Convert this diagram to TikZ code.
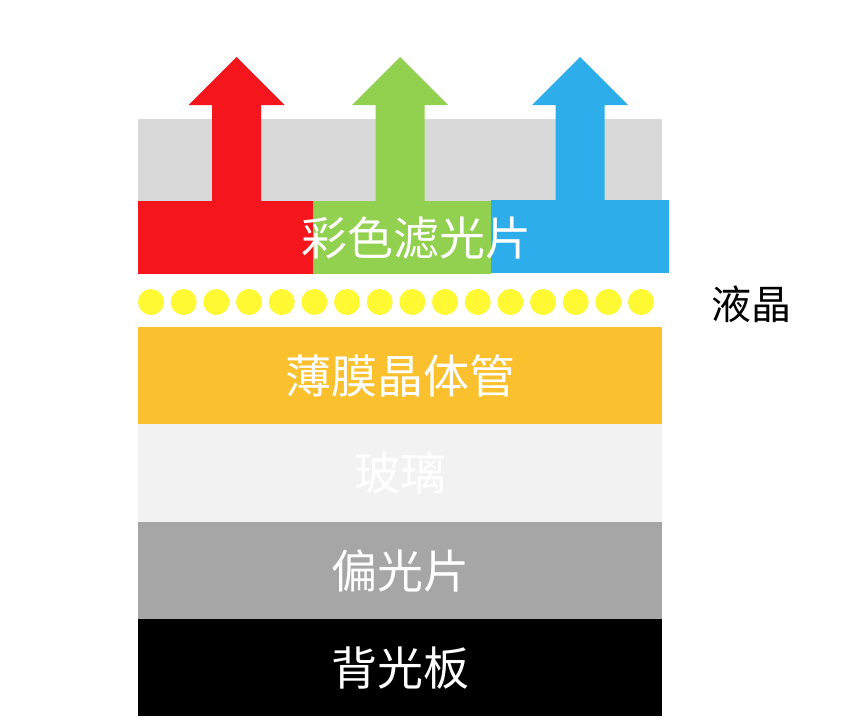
\documentclass[tikz,border=0pt]{standalone}
\usepackage{fontspec}
\setmainfont{Noto Sans CJK SC}
\definecolor{bandgray}{HTML}{D9D9D9}
\definecolor{cfred}{HTML}{F5151D}
\definecolor{cfgreen}{HTML}{92D050}
\definecolor{cfblue}{HTML}{2DAEEA}
\definecolor{lcyellow}{HTML}{FFF933}
\definecolor{tftorange}{HTML}{FBC02D}
\definecolor{glassgray}{HTML}{F2F2F2}
\definecolor{polgray}{HTML}{A6A6A6}
\begin{document}
\begin{tikzpicture}[x=1pt,y=-1pt,
  layer/.style={rectangle, inner sep=0pt, draw=none, minimum width=524pt, minimum height=97pt,
    text=white, font=\fontsize{46}{50}\selectfont},
  filt/.style={rectangle, inner sep=0pt, draw=none, minimum height=73pt},
  lc/.style={circle, inner sep=0pt, minimum size=26pt, fill=lcyellow, draw=none},
  label/.style={text=black, font=\fontsize{40}{44}\selectfont},
  uparrow/.pic={\fill (-24.5,0) -- (-24.5,-96) -- (-48,-96) -- (0,-144) -- (48,-96) -- (24.5,-96) -- (24.5,0) -- cycle;}
]
\useasboundingbox (0,0) rectangle (867,725);
% top gray band
\fill[bandgray] (138,119) rectangle (662,201);
% arrows
\pic[cfred] (ar) at (236.5,201) {uparrow};
\pic[cfgreen] (ag) at (400,201) {uparrow};
\pic[cfblue] (ab) at (580,201) {uparrow};
% color filter
\node[filt, fill=cfred, minimum width=176pt, anchor=north west] (fr) at (138,201) {};
\node[filt, fill=cfgreen, minimum width=178pt, anchor=north west] (fg) at (313,201) {};
\node[filt, fill=cfblue, minimum width=178pt, anchor=north west] (fb) at (491,200) {};
\node[text=white, font=\fontsize{46}{50}\selectfont] (cf) at (416.5,238) {彩色滤光片};
% liquid crystal
\foreach \i in {0,...,15} {
  \node[lc] (c\i) at ({151+\i*32.67},302) {};
}
\node[label] (lclabel) at (751,304) {液晶};
% layers
\node[layer, fill=tftorange, anchor=north] (tft) at (400,327) {薄膜晶体管};
\node[layer, fill=glassgray, anchor=north, minimum height=98pt] (glass) at (400,424) {玻璃};
\node[layer, fill=polgray, anchor=north] (pol) at (400,522) {偏光片};
\node[layer, fill=black, anchor=north] (back) at (400,619) {背光板};
\end{tikzpicture}
\end{document}
